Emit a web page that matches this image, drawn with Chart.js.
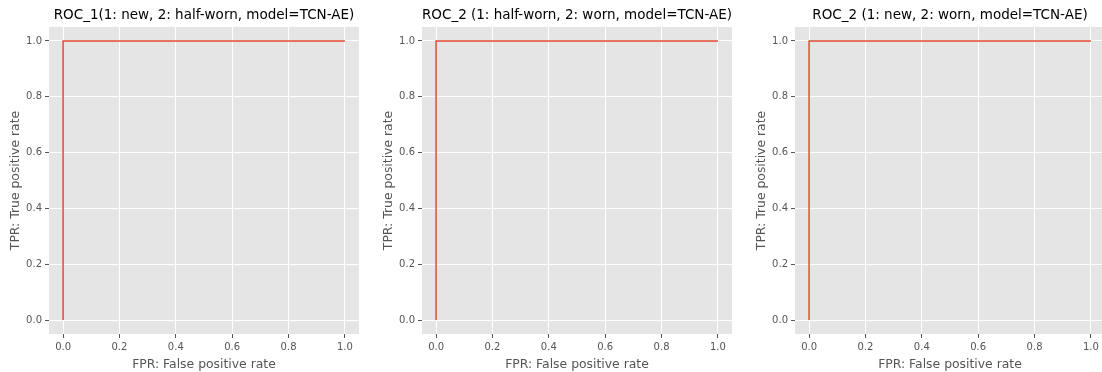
<!DOCTYPE html>
<html>
<head>
<meta charset="utf-8">
<script src="https://cdn.jsdelivr.net/npm/chart.js@4"></script>
<style>
  html, body { margin: 0; padding: 0; background: #fff; overflow: hidden; }
  body { width: 1102px; height: 372px; position: relative; }
  .panel { position: absolute; top: 0; }
</style>
</head>
<body>
<div class="panel" style="left:0px"><canvas id="c0" width="359" height="372"></canvas></div>
<div class="panel" style="left:373px"><canvas id="c1" width="359" height="372"></canvas></div>
<div class="panel" style="left:746px"><canvas id="c2" width="359" height="372"></canvas></div>
<script>
// ROC curves, one per panel
const titles = [
  'ROC_1(1: new, 2: half-worn, model=TCN-AE)',
  'ROC_2 (1: half-worn, 2: worn, model=TCN-AE)',
  'ROC_2 (1: new, 2: worn, model=TCN-AE)'
];
const fpr = [
  [0.0, 0.0, 1.0],
  [0.0, 0.0, 1.0],
  [0.0, 0.0, 1.0]
];
const tpr = [
  [0.0, 1.0, 1.0],
  [0.0, 1.0, 1.0],
  [0.0, 1.0, 1.0]
];
const tickValues = [0.0, 0.2, 0.4, 0.6, 0.8, 1.0];

const FONT = 'DejaVu Sans';

const panelLook = {
  id: 'panelLook',
  beforeDraw(chart) {
    const { ctx, chartArea: a } = chart;
    ctx.save();
    ctx.fillStyle = '#E5E5E5';
    ctx.fillRect(a.left, a.top, a.right - a.left, a.bottom - a.top);
    ctx.restore();
  },
  afterDraw(chart, args, opts) {
    const { ctx, chartArea: a } = chart;
    ctx.save();
    ctx.fillStyle = '#000';
    ctx.font = '13.5px "' + FONT + '"';
    ctx.textAlign = 'center';
    ctx.textBaseline = 'middle';
    ctx.fillText(opts.text, (a.left + a.right) / 2, 15);
    ctx.restore();
  }
};

function axis(label, isY) {
  return {
    type: 'linear',
    min: -0.05,
    max: 1.05,
    afterBuildTicks: s => { s.ticks = tickValues.map(v => ({ value: v })); },
    afterFit: s => { if (isY) s.width = 49; else s.height = 38; },
    border: { display: false },
    grid: { color: '#FFFFFF', lineWidth: 1, tickColor: '#555555', tickLength: 4 },
    ticks: {
      color: '#555555',
      font: { family: FONT, size: 10 },
      padding: 3,
      maxRotation: 0,
      callback: v => Number(v).toFixed(1)
    },
    title: {
      display: true,
      text: label,
      color: '#555555',
      font: { family: FONT, size: 12.4 },
      padding: { top: isY ? 8 : 4, bottom: 0 }
    }
  };
}

titles.forEach((t, i) => {
  const pts = fpr[i].map((x, k) => ({ x: x, y: tpr[i][k] }));
  new Chart(document.getElementById('c' + i), {
    type: 'scatter',
    data: {
      datasets: [{
        data: pts,
        showLine: true,
        borderColor: '#E24A33',
        borderWidth: 1.5,
        pointRadius: 0,
        fill: false,
        tension: 0
      }]
    },
    options: {
      responsive: false,
      animation: false,
      devicePixelRatio: 1,
      layout: { padding: { top: 27, left: 0, right: 0, bottom: 0 } },
      plugins: {
        legend: { display: false },
        tooltip: { enabled: false },
        panelLook: { text: t }
      },
      scales: {
        x: axis('FPR: False positive rate', false),
        y: axis('TPR: True positive rate', true)
      }
    },
    plugins: [panelLook]
  });
});
</script>
</body>
</html>
